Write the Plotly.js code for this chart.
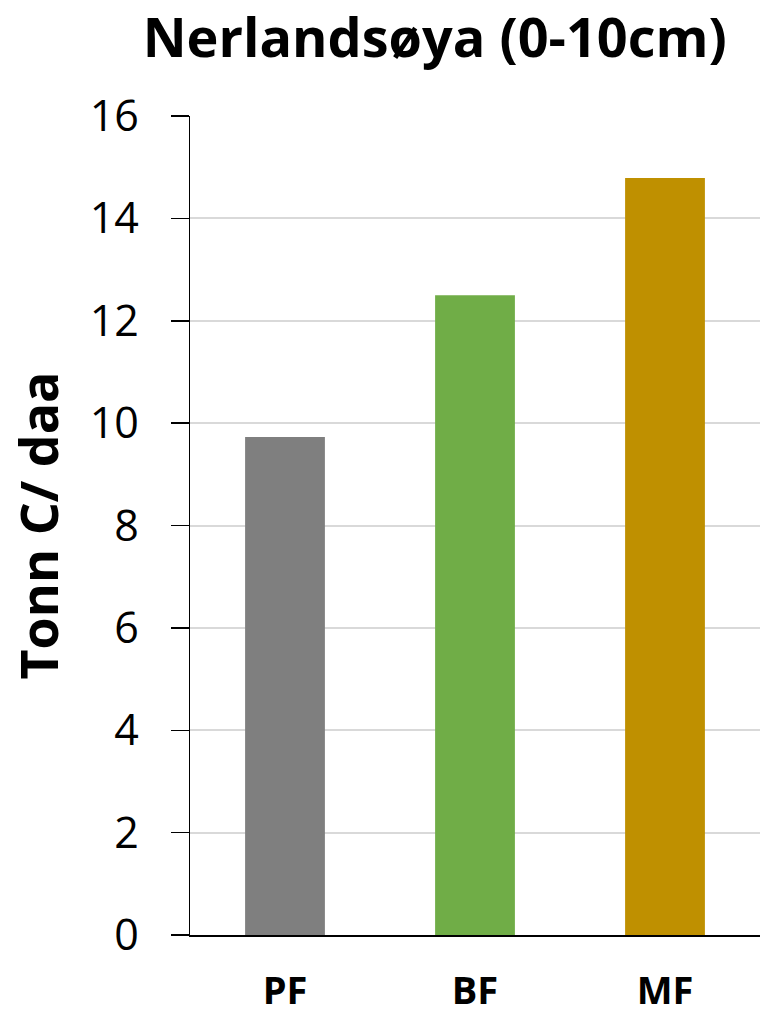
<!DOCTYPE html>
<html>
<head>
<meta charset="utf-8">
<script src="https://cdn.plot.ly/plotly-3.0.1.min.js"></script>
<style>html,body{margin:0;padding:0;background:#fff;}#chart{width:760px;height:1015px;}</style>
</head>
<body>
<div id="chart"></div>
<script>
const categories = ["PF", "BF", "MF"];
const values = [9.73, 12.5, 14.79];
const barColors = ["#7f7f7f", "#70ad47", "#bf9000"];
const yTickVals = [0, 2, 4, 6, 8, 10, 12, 14, 16];
const chartTitle = "Nerlandsøya (0-10cm)";
const yTitle = "Tonn C/ daa";

const FONT = "Open Sans, Noto Sans, sans-serif";

const data = [{
  type: "bar",
  x: categories,
  y: values,
  marker: {color: barColors},
  hoverinfo: "x+y"
}];

const layout = {
  width: 760,
  height: 1015,
  margin: {l: 190, r: 0, t: 116, b: 80},
  paper_bgcolor: "#fff",
  plot_bgcolor: "#fff",
  showlegend: false,
  bargap: 0.58,
  title: {
    text: "<b>" + chartTitle + "</b>",
    font: {family: FONT, size: 54, color: "#000"},
    xref: "container", x: 0.572, xanchor: "center",
    yref: "container", y: 1 - 38/1015, yanchor: "middle"
  },
  xaxis: {
    type: "category",
    showline: true, linecolor: "#000", linewidth: 1.5,
    ticks: "", showgrid: false, zeroline: false,
    tickfont: {family: FONT, size: 38, color: "#000"},
    tickprefix: "<b>", ticksuffix: "</b>",
    ticklabelstandoff: 22
  },
  yaxis: {
    range: [0, 16],
    tickvals: yTickVals,
    ticks: "outside", ticklen: 18, tickwidth: 1.5, tickcolor: "#000",
    showline: true, linecolor: "#000", linewidth: 1.5,
    showgrid: true, gridcolor: "#d9d9d9", gridwidth: 2,
    zeroline: false,
    tickfont: {family: FONT, size: 43, color: "#000"},
    ticklabelstandoff: 23,
    title: {text: "<b>" + yTitle + "</b>", font: {family: FONT, size: 52, color: "#000"}, standoff: 14}
  },
  yaxis2: {
    range: [0, 16],
    tickvals: yTickVals,
    overlaying: "y", anchor: "x", side: "left",
    ticks: "inside", ticklen: 17, tickwidth: 1.5, tickcolor: "#000",
    showticklabels: false, showgrid: false, zeroline: false, showline: false
  }
};

Plotly.newPlot("chart", data, layout, {staticPlot: true});
</script>
</body>
</html>
